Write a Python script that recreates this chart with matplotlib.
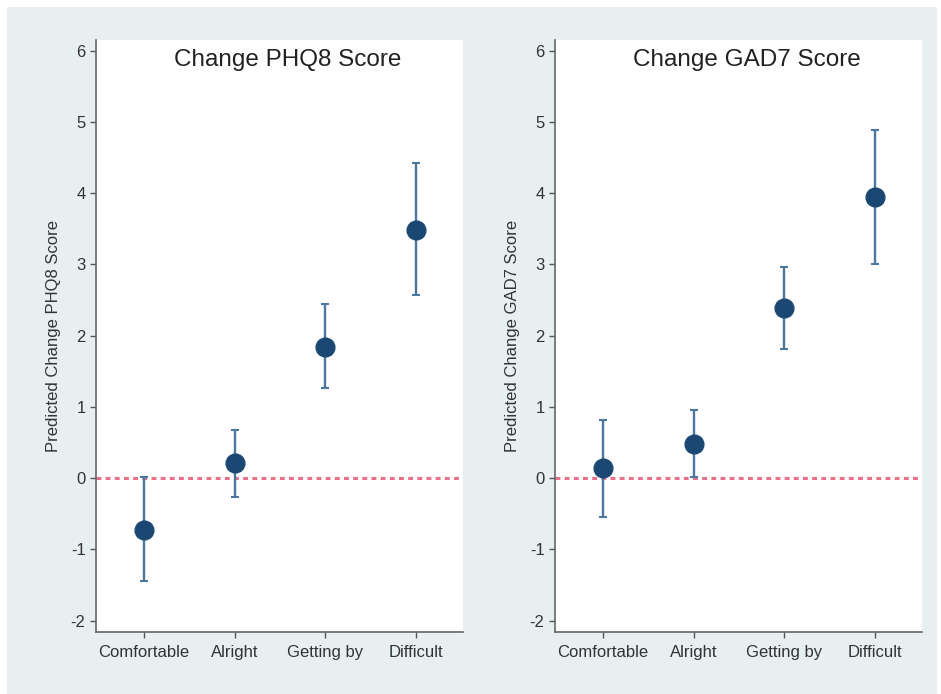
import matplotlib
matplotlib.use('Agg')
import matplotlib.pyplot as plt
from matplotlib.patches import Rectangle
import numpy as np

plt.rcParams['font.family'] = ['Liberation Sans', 'DejaVu Sans']

categories = ['Comfortable', 'Alright', 'Getting by', 'Difficult']

# PHQ8: estimate with lower / upper CI
phq8_est = [-0.73, 0.21, 1.84, 3.48]
phq8_lo = [-1.45, -0.26, 1.26, 2.57]
phq8_hi = [0.02, 0.68, 2.45, 4.43]

# GAD7
gad7_est = [0.14, 0.48, 2.39, 3.94]
gad7_lo = [-0.55, 0.01, 1.81, 3.00]
gad7_hi = [0.82, 0.96, 2.97, 4.89]

yticks = [-2, -1, 0, 1, 2, 3, 4, 5, 6]

bg = '#e8eff1'
pt_col = '#1b4872'
bar_col = '#4a76a0'
ref_col = '#e8708a'

W, H = 941, 694
fig = plt.figure(figsize=(W / 100, H / 100), dpi=100, facecolor='white')
fig.patches.append(Rectangle((7 / W, 0), 930 / W, 687 / H, transform=fig.transFigure,
                             facecolor=bg, edgecolor='none', zorder=-10))

panels = [
    (96, 'Change PHQ8 Score', 'Predicted Change PHQ8 Score', phq8_est, phq8_lo, phq8_hi),
    (555, 'Change GAD7 Score', 'Predicted Change GAD7 Score', gad7_est, gad7_lo, gad7_hi),
]

x = np.arange(1, len(categories) + 1)
for left, title, ylab, est, lo, hi in panels:
    ax = fig.add_axes([left / W, 62 / H, 367 / W, 592 / H])
    ax.set_facecolor('white')
    est = np.array(est)
    yerr = [est - np.array(lo), np.array(hi) - est]
    ax.axhline(0, color=ref_col, lw=2.2, dashes=(1.6, 1.4), zorder=1)
    ax.errorbar(x, est, yerr=yerr, fmt='none', ecolor=bar_col, elinewidth=1.7,
                capsize=2.6, capthick=1.5, zorder=2)
    ax.plot(x, est, 'o', color=pt_col, markersize=13.5, zorder=3)

    ax.set_xlim(0.47, 4.52)
    ax.set_ylim(-2.16, 6.15)
    ax.set_xticks(x)
    ax.set_xticklabels(categories)
    ax.set_yticks(yticks)
    ax.set_yticklabels([str(t) for t in yticks])
    ax.tick_params(axis='both', colors='#555555', labelcolor='#333333', labelsize=12,
                   length=4.5, width=1)
    ax.tick_params(axis='x', pad=5)
    ax.tick_params(axis='y', pad=3)
    for s in ['top', 'right']:
        ax.spines[s].set_visible(False)
    for s in ['left', 'bottom']:
        ax.spines[s].set_color('#666666')
        ax.spines[s].set_linewidth(1.2)

    ax.set_ylabel(ylab, fontsize=12, color='#333333', labelpad=7)
    ax.text(0.523, 0.967, title, transform=ax.transAxes, ha='center', va='center',
            fontsize=17.5, color='#222222')

fig.savefig('out.png', dpi=100, facecolor=fig.get_facecolor())
